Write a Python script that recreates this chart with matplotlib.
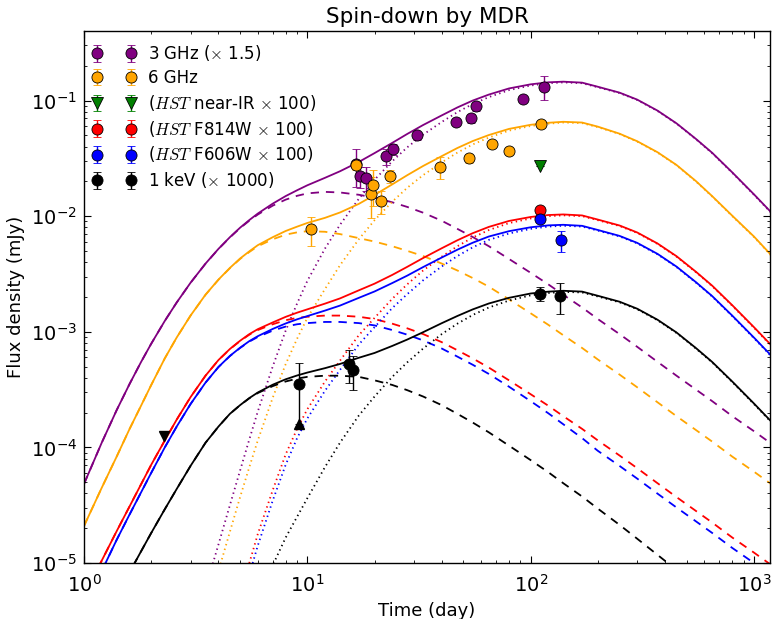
import numpy as np
import matplotlib
matplotlib.use("Agg")
import matplotlib.pyplot as plt

plt.rcParams.update({
    "font.family": ["DejaVu Sans"],
    "mathtext.fontset": "cm",
    "xtick.direction": "in",
    "ytick.direction": "in",
    "xtick.top": True,
    "ytick.right": True,
    "xtick.major.size": 5,
    "ytick.major.size": 5,
    "xtick.minor.size": 2.5,
    "ytick.minor.size": 2.5,
    "xtick.major.pad": 8,
    "ytick.major.pad": 5,
    "xtick.labelsize": 14,
    "ytick.labelsize": 14,
    "lines.scale_dashes": False,
    "axes.linewidth": 1.0,
})

# ---------------- model curves (log10 of flux density, mJy) ----------------
t_model = [1, 1.2, 1.4, 1.6, 1.8, 2, 2.3, 2.6, 3, 3.5,
           4, 4.5, 5, 5.5, 6, 7, 8, 9, 10, 12,
           14, 17, 20, 24, 28, 33, 40, 47, 55, 65,
           80, 100, 120, 140, 170, 200, 250, 300, 370, 450,
           550, 650, 800, 1000, 1200]

# early (dashed) component
ghz3_early = [-4.316, -3.96, -3.678, -3.451, -3.262, -3.103, -2.906, -2.747, -2.576, -2.411,
              -2.284, -2.184, -2.103, -2.039, -1.986, -1.909, -1.857, -1.824, -1.803, -1.79,
              -1.795, -1.815, -1.84, -1.88, -1.92, -1.97, -2.04, -2.11, -2.18, -2.26,
              -2.37, -2.49, -2.59, -2.68, -2.79, -2.89, -3.02, -3.13, -3.26, -3.38,
              -3.50, -3.60, -3.73, -3.86, -3.97]
ghz6_early = [-4.68, -4.35, -4.08, -3.84, -3.64, -3.46, -3.23, -3.05, -2.86, -2.68,
              -2.55, -2.45, -2.37, -2.31, -2.26, -2.20, -2.16, -2.14, -2.13, -2.135,
              -2.155, -2.19, -2.22, -2.26, -2.30, -2.345, -2.41, -2.47, -2.535, -2.61,
              -2.72, -2.84, -2.94, -3.03, -3.14, -3.24, -3.37, -3.48, -3.61, -3.73,
              -3.85, -3.95, -4.08, -4.21, -4.32]
f814_early = [-5.28, -4.98, -4.725, -4.51, -4.32, -4.15, -3.94, -3.76, -3.565, -3.38,
              -3.245, -3.15, -3.08, -3.025, -2.985, -2.935, -2.90, -2.88, -2.87, -2.86,
              -2.86, -2.87, -2.89, -2.93, -2.97, -3.02, -3.09, -3.16, -3.23, -3.31,
              -3.42, -3.54, -3.64, -3.73, -3.84, -3.94, -4.07, -4.18, -4.31, -4.43,
              -4.55, -4.65, -4.78, -4.91, -5.02]
f606_early = [-5.42, -5.07, -4.80, -4.58, -4.39, -4.22, -4.00, -3.82, -3.625, -3.44,
              -3.305, -3.21, -3.14, -3.085, -3.045, -2.99, -2.955, -2.935, -2.925, -2.915,
              -2.915, -2.925, -2.945, -2.985, -3.025, -3.075, -3.145, -3.215, -3.285, -3.365,
              -3.475, -3.60, -3.705, -3.80, -3.92, -4.03, -4.16, -4.27, -4.40, -4.52,
              -4.64, -4.74, -4.87, -5.00, -5.11]
kev_early = [-5.84, -5.55, -5.30, -5.08, -4.90, -4.74, -4.535, -4.36, -4.16, -3.96,
             -3.82, -3.71, -3.635, -3.575, -3.53, -3.47, -3.43, -3.405, -3.39, -3.38,
             -3.38, -3.39, -3.42, -3.46, -3.505, -3.56, -3.635, -3.71, -3.785, -3.87,
             -3.985, -4.11, -4.215, -4.31, -4.425, -4.53, -4.67, -4.79, -4.93, -5.06,
             -5.19, -5.30, -5.44, -5.58, -5.70]

# late (dotted) component
ghz3_late = [-11.0, -10.2, -9.5, -8.9, -8.4, -7.9, -7.3, -6.3, -5.7, -5.22,
             -4.84, -4.50, -4.20, -3.93, -3.69, -3.30, -2.99, -2.755, -2.56, -2.28,
             -2.075, -1.85, -1.685, -1.525, -1.405, -1.295, -1.185, -1.10, -1.03, -0.97,
             -0.91, -0.87, -0.85, -0.843, -0.85, -0.885, -0.935, -0.995, -1.09, -1.20,
             -1.335, -1.455, -1.625, -1.815, -1.975]
ghz6_late = [-11.5, -10.7, -10.0, -9.4, -8.9, -8.4, -7.8, -6.6, -5.95, -5.45,
             -5.07, -4.73, -4.43, -4.17, -3.94, -3.57, -3.28, -3.06, -2.88, -2.63,
             -2.425, -2.20, -2.035, -1.875, -1.755, -1.645, -1.535, -1.45, -1.38, -1.32,
             -1.26, -1.22, -1.20, -1.19, -1.195, -1.23, -1.29, -1.355, -1.45, -1.56,
             -1.70, -1.83, -2.00, -2.18, -2.345]
f814_late = [-12.1, -11.4, -10.7, -10.1, -9.6, -9.1, -8.5, -8.0, -7.4, -6.7,
             -6.15, -5.72, -5.33, -5.00, -4.75, -4.37, -4.06, -3.84, -3.67, -3.43,
             -3.25, -3.03, -2.88, -2.715, -2.59, -2.47, -2.35, -2.26, -2.185, -2.12,
             -2.06, -2.02, -2.00, -1.993, -2.00, -2.035, -2.085, -2.145, -2.24, -2.35,
             -2.485, -2.605, -2.775, -2.965, -3.125]
f606_late = [-12.3, -11.6, -10.9, -10.3, -9.8, -9.3, -8.7, -8.2, -7.6, -6.9,
             -6.3, -5.85, -5.45, -5.10, -4.85, -4.46, -4.15, -3.92, -3.75, -3.51,
             -3.33, -3.11, -2.96, -2.795, -2.675, -2.555, -2.435, -2.345, -2.27, -2.205,
             -2.15, -2.11, -2.09, -2.083, -2.09, -2.125, -2.175, -2.235, -2.33, -2.44,
             -2.575, -2.695, -2.865, -3.055, -3.215]
kev_late = [-15.0, -14.0, -13.2, -12.5, -11.9, -11.4, -10.7, -10.1, -9.3, -8.5,
            -7.8, -7.2, -6.6, -6.0, -5.5, -5.02, -4.78, -4.60, -4.44, -4.17,
            -3.96, -3.725, -3.56, -3.39, -3.265, -3.145, -3.02, -2.93, -2.855, -2.79,
            -2.73, -2.685, -2.665, -2.655, -2.66, -2.695, -2.745, -2.805, -2.90, -3.01,
            -3.145, -3.265, -3.435, -3.625, -3.785]

# ---------------- observations (mJy) ----------------
ghz3_t = [16.5, 17.2, 18.3, 22.4, 24.2, 31.0, 46.2, 54.2, 57.0, 92.5, 114.5]
ghz3_f = [0.028, 0.0221, 0.0214, 0.0329, 0.0378, 0.0499, 0.065, 0.0704, 0.0893, 0.1026, 0.132]
ghz3_e = [0.010, 0.0045, 0.005, 0.005, 0.004, 0.004, 0.004, 0.006, 0.008, 0.004, 0.03]

ghz6_t = [10.4, 16.5, 19.2, 19.6, 21.4, 23.4, 39.2, 52.8, 66.8, 79.6, 111.7]
ghz6_f = [0.00773, 0.0279, 0.0157, 0.0186, 0.0134, 0.0223, 0.0268, 0.0316, 0.0418, 0.0368, 0.0625]
ghz6_e = [0.0022, 0.003, 0.006, 0.0063, 0.003, 0.003, 0.006, 0.003, 0.003, 0.003, 0.005]

nir_t = [110.0]
nir_f = [0.0272]

f814_t = [110.0]
f814_f = [0.01127]
f814_e = [0.0006]

f606_t = [110.0, 136.4]
f606_f = [0.0095, 0.0062]
f606_e = [0.0005, 0.0013]

kev_t = [9.2, 15.4, 16.0, 110.0, 135.0]
kev_f = [3.54e-4, 5.3e-4, 4.64e-4, 2.13e-3, 2.02e-3]
kev_elo = [1.94e-4, 1.7e-4, 1.5e-4, 3.0e-4, 6.0e-4]
kev_ehi = [1.86e-4, 1.7e-4, 1.5e-4, 3.0e-4, 6.0e-4]
kev_ul_t = [2.27]
kev_ul_f = [1.25e-4]

# ---------------- figure ----------------
fig = plt.figure(figsize=(7.73, 6.19), dpi=100)
ax = fig.add_axes([0.1087, 0.0905, 0.8874, 0.8595])

t = np.array(t_model)
bands = [
    ("purple", ghz3_early, ghz3_late),
    ("orange", ghz6_early, ghz6_late),
    ("red", f814_early, f814_late),
    ("blue", f606_early, f606_late),
    ("black", kev_early, kev_late),
]
lw = 1.3
for col, early, late in bands:
    e = 10.0 ** np.array(early)
    l = 10.0 ** np.array(late)
    ax.plot(t, e + l, color=col, lw=lw, zorder=1)
    ax.plot(t, e, color=col, lw=lw, ls=(0, (6, 5)), zorder=1)
    ax.plot(t, l, color=col, lw=lw, ls=(0, (1, 2.5)), zorder=1)

ekw = dict(ls="none", ms=8, mec="k", mew=0.6, capsize=3, elinewidth=1,
           capthick=1, zorder=3)
ax.errorbar(ghz3_t, ghz3_f, yerr=ghz3_e, fmt="o", color="purple",
            label=r"3 GHz ($\times$ 1.5)", **ekw)
ax.errorbar(ghz6_t, ghz6_f, yerr=ghz6_e, fmt="o", color="orange",
            label="6 GHz", **ekw)
ax.errorbar(nir_t, nir_f, yerr=[0.0], fmt="v", color="green",
            label=r"($HST$ near-IR $\times$ 100)", **ekw)
ax.errorbar(f814_t, f814_f, yerr=f814_e, fmt="o", color="red",
            label=r"($HST$ F814W $\times$ 100)", **ekw)
ax.errorbar(f606_t, f606_f, yerr=f606_e, fmt="o", color="blue",
            label=r"($HST$ F606W $\times$ 100)", **ekw)
ax.errorbar(kev_t, kev_f, yerr=[kev_elo, kev_ehi], fmt="o", color="black",
            label=r"1 keV ($\times$ 1000)", **ekw)
ax.plot(kev_ul_t, kev_ul_f, "v", color="black", ms=7, zorder=3)
ax.plot([kev_t[0]], [kev_f[0] - kev_elo[0]], "^", color="black", ms=7, zorder=3)

ax.set_xscale("log")
ax.set_yscale("log")
ax.set_xlim(1, 1180)
ax.set_ylim(1e-5, 0.4)
ax.set_xlabel("Time (day)", fontsize=13)
ax.set_ylabel("Flux density (mJy)", fontsize=13)
ax.set_title("Spin-down by MDR", fontsize=15.5)

leg = ax.legend(loc="upper left", bbox_to_anchor=(0.0, 0.993), numpoints=2,
                frameon=False, fontsize=12, handlelength=2.6,
                handletextpad=0.75, borderaxespad=0.1, labelspacing=0.35)

fig.savefig("out.png", dpi=100)
